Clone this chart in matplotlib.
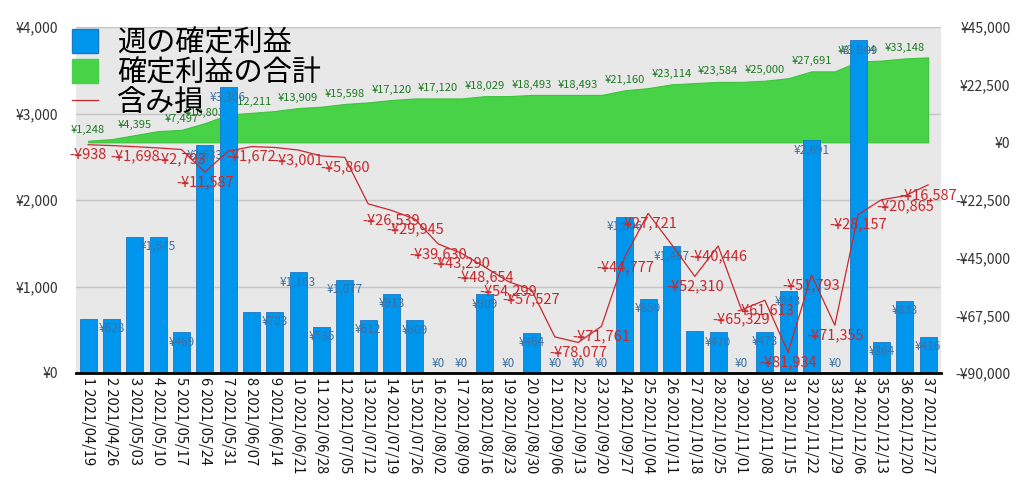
import matplotlib
matplotlib.use('Agg')
import matplotlib.pyplot as plt
from matplotlib.patches import Patch
from matplotlib.lines import Line2D
from matplotlib.ticker import FuncFormatter, MultipleLocator
import numpy as np

plt.rcParams['font.family'] = ['Noto Sans CJK JP', 'DejaVu Sans']

# data
dates = ['2021/04/19', '2021/04/26', '2021/05/03', '2021/05/10', '2021/05/17', '2021/05/24',
         '2021/05/31', '2021/06/07', '2021/06/14', '2021/06/21', '2021/06/28', '2021/07/05',
         '2021/07/12', '2021/07/19', '2021/07/26', '2021/08/02', '2021/08/09', '2021/08/16',
         '2021/08/23', '2021/08/30', '2021/09/06', '2021/09/13', '2021/09/20', '2021/09/27',
         '2021/10/04', '2021/10/11', '2021/10/18', '2021/10/25', '2021/11/01', '2021/11/08',
         '2021/11/15', '2021/11/22', '2021/11/29', '2021/12/06', '2021/12/13', '2021/12/20',
         '2021/12/27']

weekly = [620, 628, 1572, 1575, 469, 2633, 3306, 705, 703, 1163, 535, 1077, 612, 913, 609,
          0, 0, 909, 0, 464, 0, 0, 0, 1806, 859, 1467, 487, 470, 0, 473, 943, 2691, 0,
          3844, 364, 833, 416]

total = [620, 1248, 2820, 4395, 4864, 7497, 10803, 11506, 12211, 13374, 13909, 14986, 15598,
         16511, 17120, 17120, 17120, 18029, 18029, 18493, 18493, 18493, 18493, 20299, 21160,
         22627, 23114, 23584, 23584, 24057, 25000, 27691, 27691, 31535, 31899, 32732, 33148]

unrealized = [-938, -1250, -1698, -2200, -2793, -11587, -3500, -1672, -2000, -3001, -5300,
              -5860, -24000, -26539, -29945, -39630, -43290, -48654, -54299, -57527, -75900,
              -78077, -71761, -44777, -27721, -39800, -52310, -40446, -65329, -61613, -81934,
              -51793, -71355, -28157, -22400, -20865, -16587]

# which points carry a value label in the reference
weekly_lbl = [i for i in range(37) if i not in (0, 2, 7, 26)]
total_lbl = [0, 2, 4, 5, 7, 9, 11, 13, 15, 17, 19, 21, 23, 25, 27, 29, 31, 33, 35]
unreal_lbl = [0, 2, 4, 5, 7, 9, 11, 13, 14, 15, 16, 17, 18, 19, 21, 22, 23, 24, 26, 27, 28,
              29, 30, 31, 32, 33, 35, 36]

labels = ['%d %s' % (i + 1, d) for i, d in enumerate(dates)]
x = np.arange(len(weekly))

def yen(v, pos=None):
    v = int(round(v))
    if v < 0:
        return '-¥{:,}'.format(-v)
    return '¥{:,}'.format(v)

BLUE = '#0096ee'
GREEN = '#47d247'
RED = '#c8282c'

fig = plt.figure(figsize=(10.24, 4.83), dpi=100)
ax_g = fig.add_axes([76/1024, 1-373/483, 865/1024, 346/483])
ax = ax_g.twinx()
ax_r = ax_g.twinx()
ax_g.set_zorder(1)
ax.set_zorder(2)
ax_r.set_zorder(3)
ax.patch.set_visible(False)
ax_r.patch.set_visible(False)
ax_g.set_facecolor('#e8e8e8')

xlim = (-0.52, 36.55)
for a in (ax_g, ax, ax_r):
    a.set_xlim(*xlim)
    for s in a.spines.values():
        s.set_visible(False)
    a.tick_params(length=0)

# green area (right scale)
ax_g.set_ylim(-90000, 45000)
ax_g.fill_between(x, 0, total, color=GREEN, linewidth=0.8, edgecolor='#3cc43c')
for i in total_lbl:
    ax_g.annotate(yen(total[i + 1] if i + 1 < len(total) else total[i]), (x[i], total[i]),
                  xytext=(0, 7.5), textcoords='offset points', ha='center', va='center',
                  fontsize=8, color='#1f7a24')

# bars (left scale)
ax.set_ylim(0, 4000)
for yv in (1000, 2000, 3000, 4000):
    ax_g.axhline(yv * 135000 / 4000 - 90000, color='#c4c4c4', linewidth=1, zorder=0)
ax.bar(x, weekly, width=0.72, color=BLUE, edgecolor='#1a78c2', linewidth=0.6)
for i in weekly_lbl:
    off = 7 if weekly[i] == 0 else -7
    ax.annotate(yen(weekly[i]), (x[i], weekly[i]), xytext=(0, off), textcoords='offset points',
                ha='center', va='center', fontsize=8.5, color='#3c70a4')
ax.spines['bottom'].set_visible(True)
ax.spines['bottom'].set_color('black')
ax.spines['bottom'].set_linewidth(2)

# red line (right scale)
ax_r.set_ylim(-90000, 45000)
ax_r.plot(x, unrealized, color=RED, linewidth=0.9)
for i in unreal_lbl:
    ax_r.annotate(yen(unrealized[i]), (x[i], unrealized[i]), xytext=(0, -7.2),
                  textcoords='offset points', ha='center', va='center', fontsize=10.5, color=RED)

# left axis ticks
ax.yaxis.set_ticks_position('left')
ax.yaxis.set_major_locator(MultipleLocator(1000))
ax.yaxis.set_major_formatter(FuncFormatter(yen))
ax.tick_params(axis='y', labelsize=10, pad=13, colors='#333333')

# right axis ticks
ax_g.yaxis.set_ticks([])
ax_r.yaxis.set_ticks_position('right')
ax_r.set_yticks([45000, 22500, 0, -22500, -45000, -67500, -90000])
ax_r.yaxis.set_major_formatter(FuncFormatter(yen))
ax_r.tick_params(axis='y', labelsize=10, pad=50, colors='#333333')
for t in ax_r.get_yticklabels():
    t.set_ha('right')

# x tick labels (twins share the x axis but keep theirs hidden)
ax_g.set_xticks(x)
ax_g.set_xticklabels(labels, rotation=270, fontsize=10.5, color='#111111')
ax_g.tick_params(axis='x', pad=3)

handles = [Patch(facecolor=BLUE, edgecolor='#1a78c2'),
           Patch(facecolor=GREEN, edgecolor=GREEN),
           Line2D([0], [0], color=RED, linewidth=0.9)]
ax_r.legend(handles, ['週の確定利益', '確定利益の合計', '含み損'], loc='upper left',
            bbox_to_anchor=(72/1024, 1-28/483), bbox_transform=fig.transFigure,
            frameon=False, fontsize=21, handlelength=0.9, handleheight=0.9,
            handletextpad=0.65, labelspacing=0.0, borderpad=0, borderaxespad=0)

plt.savefig('out.png', dpi=100)
